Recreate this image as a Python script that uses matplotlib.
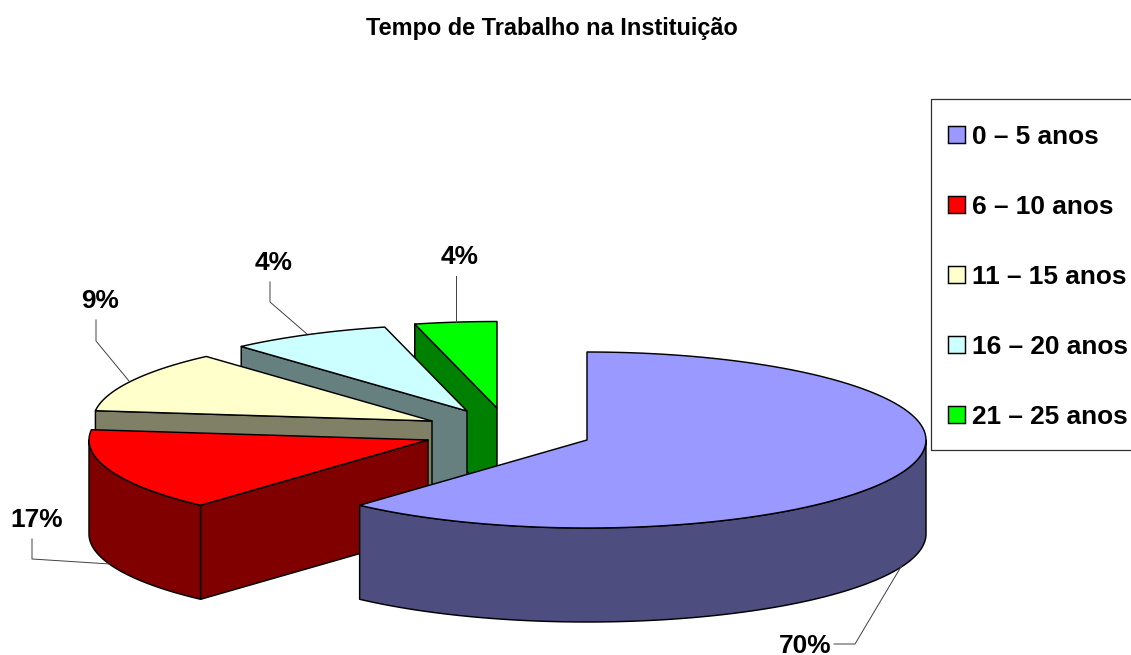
import numpy as np
import matplotlib
matplotlib.use("Agg")
import matplotlib.pyplot as plt
from matplotlib.patches import Polygon, Rectangle

plt.rcParams['font.family'] = ['Liberation Sans', 'DejaVu Sans']

title = "Tempo de Trabalho na Instituição"
categories = ["0 – 5 anos", "6 – 10 anos", "11 – 15 anos", "16 – 20 anos", "21 – 25 anos"]
percent_labels = [70, 17, 9, 4, 4]
# angular share of each slice as it appears in the drawing (% of the circle)
drawn_shares = [61.7, 15.2, 11.5, 7.7, 3.9]
top_colors = ["#9999FF", "#FF0000", "#FFFFCC", "#CCFFFF", "#00FF00"]
side_colors = ["#4D4D80", "#800000", "#808066", "#668080", "#008000"]
# apex of each exploded slice, in pixels
apexes = [(587, 440), (428, 440), (432, 421), (467, 411), (497, 408)]
RX, RY, RY_BACK, DEPTH = 339, 88, 86.5, 94
# baseline-anchored label position and leader line of each slice
label_pos = [(805, 653), (37, 527), (100, 308), (274, 270), (460, 264)]
leaders = [
    [(834, 644), (855, 644), (902, 565)],
    [(32, 539), (32, 559), (110, 564)],
    [(96, 320), (96, 341), (129, 381)],
    [(270, 282), (270, 302), (307, 334)],
    [(456, 276), (456, 322)],
]
legend_y = [135, 205, 275, 345, 415]

W, H = 1131, 655
fig = plt.figure(figsize=(W / 100, H / 100), dpi=100)
ax = fig.add_axes([0, 0, 1, 1])
ax.set_xlim(0, W)
ax.set_ylim(H, 0)
ax.axis("off")


def rim(i, a0, a1, n=120):
    apex = apexes[i]
    t = np.radians(np.linspace(a0, a1, n))
    ry = RY if i == 0 else RY_BACK
    ys = np.where(np.cos(t) > 0, ry, RY) * np.cos(t)
    return np.column_stack([apex[0] + RX * np.sin(t), apex[1] - ys])


def poly(pts, color, z):
    ax.add_patch(Polygon(pts, closed=True, facecolor=color, edgecolor="black",
                         linewidth=1.05, joinstyle="round", zorder=z))


edges = np.concatenate([[0], np.cumsum(drawn_shares)]) / np.sum(drawn_shares) * 360
down = np.array([0, DEPTH])
# clockwise from 12 o'clock: slice i covers edges[i]..edges[i+1]; paint back to front
for z, i in enumerate([4, 3, 2, 1, 0]):
    apex = np.array(apexes[i], float)
    a0, a1 = edges[i], edges[i + 1]
    z0 = 2 + z * 3
    # outer wall, where it faces the viewer
    lo, hi = max(a0, 90), min(a1, 270)
    if lo < hi:
        wall = rim(i, lo, hi)
        poly(np.vstack([wall, (wall + down)[::-1]]), side_colors[i], z0)
    # cut wall seen from the front
    if i != 0:
        end = rim(i, a0, a0, 1)[0]
        poly(np.array([end, apex, apex + down, end + down]), side_colors[i], z0)
    # top face
    poly(np.vstack([apex, rim(i, a0, a1)]), top_colors[i], z0 + 1)

for (lx, ly), pct, seg in zip(label_pos, percent_labels, leaders):
    ax.text(lx, ly, f"{pct}%", ha="center", va="baseline", fontsize=18.9,
            fontweight="bold", color="black", zorder=40)
    seg = np.array(seg)
    ax.plot(seg[:, 0], seg[:, 1], color="#404040", lw=0.7, zorder=39)

ax.text(552, 28, title, ha="center", va="center", fontsize=16.9,
        fontweight="bold", color="black")

# legend
ax.plot([1131, 931, 931, 1131], [99, 99, 449.5, 449.5], color="#303030", lw=0.9, zorder=30)
for name, col, y in zip(categories, top_colors, legend_y):
    ax.add_patch(Rectangle((948, y - 9), 17, 17, facecolor=col, edgecolor="black",
                           linewidth=1.05, zorder=31))
    ax.text(972, y + 9, name, ha="left", va="baseline", fontsize=18.9, fontweight="bold",
            color="black", zorder=31)

fig.savefig("out.png", dpi=100, facecolor="white")
